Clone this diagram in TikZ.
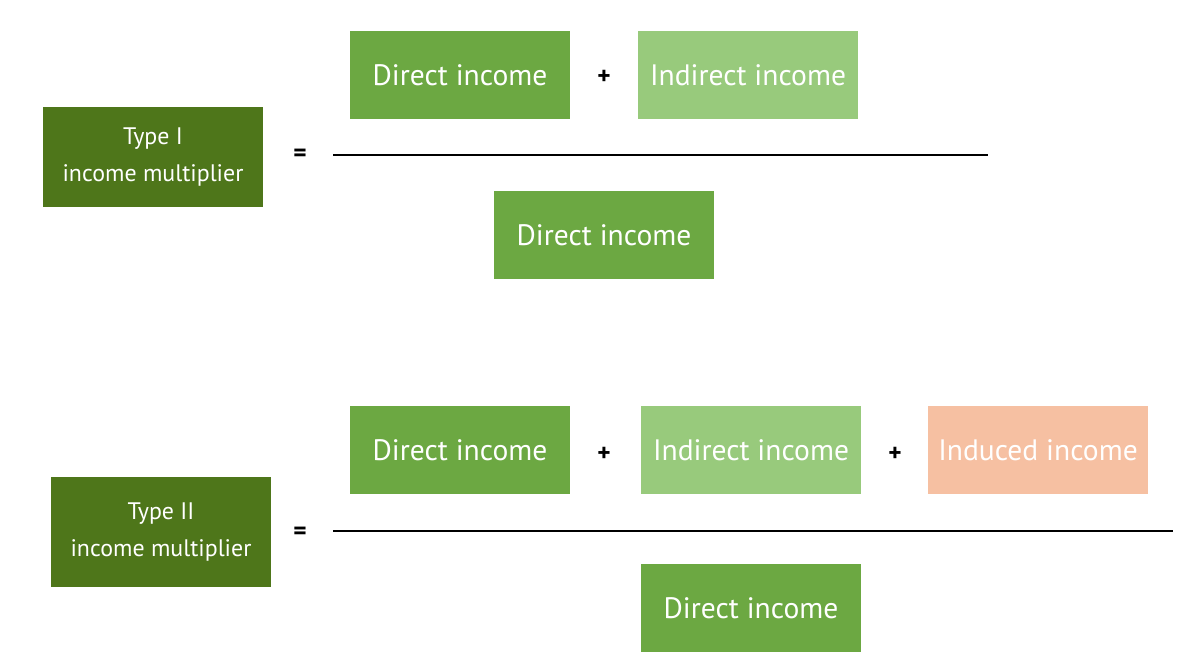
\documentclass[tikz,border=0pt]{standalone}
\usepackage{fontspec}
\setmainfont{PT Sans}
\usetikzlibrary{positioning}

\definecolor{darkgreen}{RGB}{78,118,26}
\definecolor{midgreen}{RGB}{108,168,66}
\definecolor{lightgreen}{RGB}{152,202,124}
\definecolor{peach}{RGB}{246,192,162}

\begin{document}
\begin{tikzpicture}[x=0.025cm,y=-0.025cm,every text node part/.style={align=center}]

\tikzstyle{term} = [rectangle,draw=none,text=white,inner sep=0,minimum width=5.5cm,minimum height=2.2cm,font=\fontsize{21}{24}\selectfont]
\tikzstyle{multiplier} = [term,fill=darkgreen,minimum height=2.5cm,font=\fontsize{17}{26}\selectfont]
\tikzstyle{sign} = [inner sep=0,font=\fontsize{18}{20}\selectfont\bfseries]
\tikzstyle{bar} = [draw,line width=1.6pt]

\useasboundingbox (0,0) rectangle (1193,659);

% Type I
\node [multiplier] (type_1) at (153,157) {Type I\\income multiplier};
\node [sign] (eq_1) at (300,155) {=};
\node [term, fill=midgreen] (direct_1) at (460,75) {Direct income};
\node [sign] (plus_1) at (604,77) {+};
\node [term, fill=lightgreen] (indirect_1) at (748,75) {Indirect income};
\node [term, fill=midgreen] (denom_1) at (604,235) {Direct income};

\coordinate (bar_1_start) at (333,155);
\coordinate (bar_1_end) at (988,155);
\path[bar] (bar_1_start) -- (bar_1_end);

% Type II
\node [multiplier, minimum height=2.75cm] (type_2) at (161,532) {Type II\\income multiplier};
\node [sign] (eq_2) at (300,533) {=};
\node [term, fill=midgreen] (direct_2) at (460,450) {Direct income};
\node [sign] (plus_2) at (604,454) {+};
\node [term, fill=lightgreen] (indirect_2) at (751,450) {Indirect income};
\node [sign] (plus_3) at (895,454) {+};
\node [term, fill=peach] (induced_2) at (1038,450) {Induced income};
\node [term, fill=midgreen] (denom_2) at (751,608) {Direct income};

\coordinate (bar_2_start) at (333,531);
\coordinate (bar_2_end) at (1173,531);
\path[bar] (bar_2_start) -- (bar_2_end);

\end{tikzpicture}
\end{document}
